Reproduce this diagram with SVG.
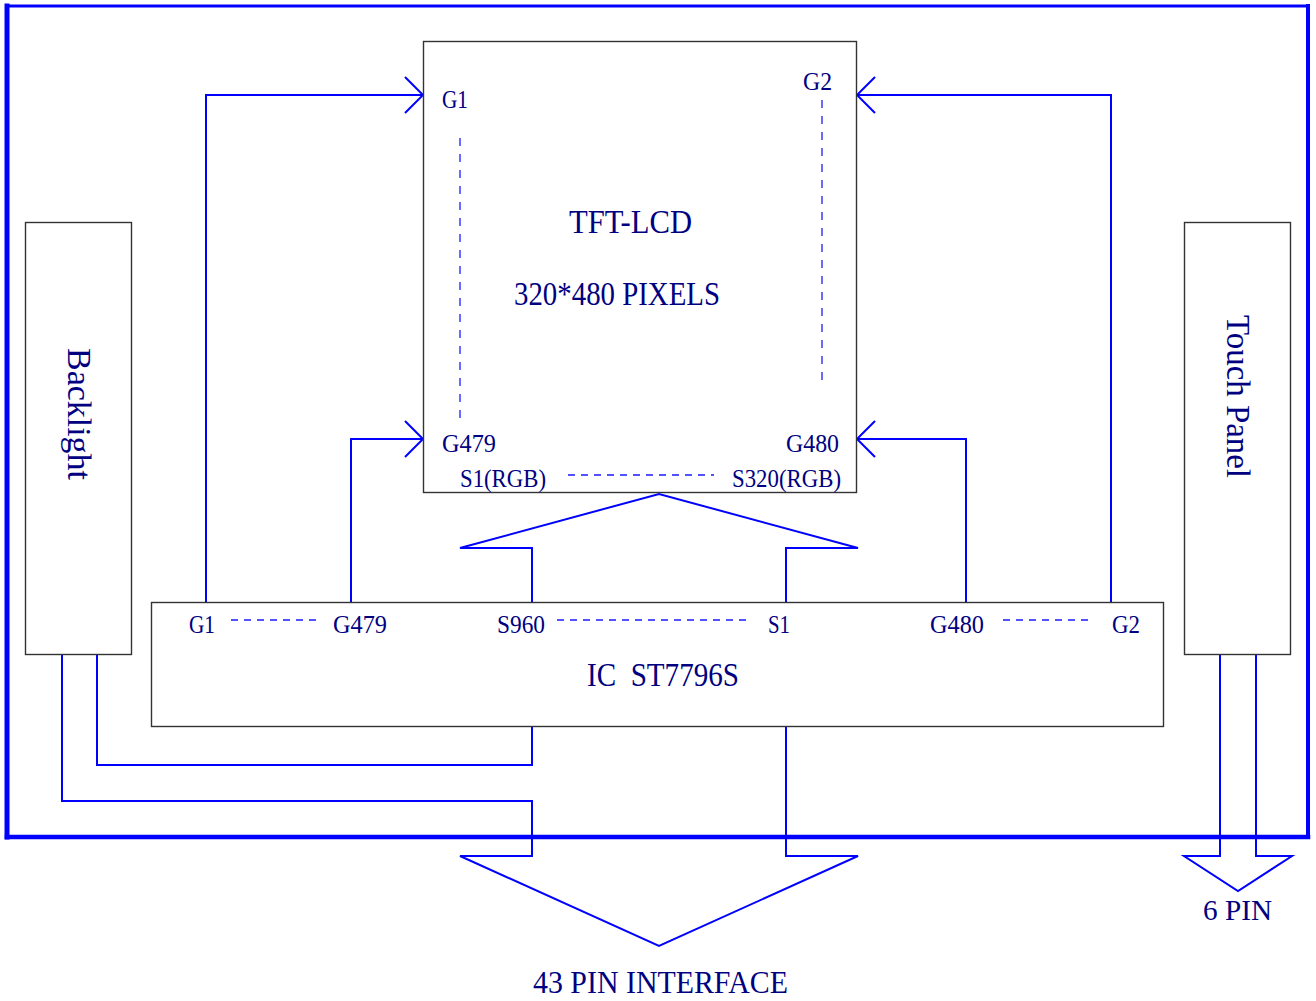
<svg xmlns="http://www.w3.org/2000/svg" width="1316" height="1001" viewBox="0 0 1316 1001">
<style>
.t{font-family:"Liberation Serif","Times New Roman",serif;fill:#000080;}
.s{font-size:25px;}
.b{font-size:33px;}
.w{stroke:#0000ff;stroke-width:2;fill:none;stroke-linejoin:miter;}
.d{stroke:#1a1aff;stroke-width:1.3;fill:none;stroke-dasharray:8 8;}
.dh{stroke:#1a1aff;stroke-width:1.3;fill:none;stroke-dasharray:7 6;}
.box{fill:#fff;stroke:#333;stroke-width:1.4;}
.fr{stroke:#0000ff;fill:none;stroke-linecap:square;}
</style>
<rect width="1316" height="1001" fill="#fff"/>
<g id="frame">
<line class="fr" x1="7" y1="6" x2="1308" y2="6" stroke-width="3"/>
<line class="fr" x1="7" y1="6" x2="7" y2="837" stroke-width="5"/>
<line class="fr" x1="1308" y1="6" x2="1308" y2="837" stroke-width="4"/>
<line class="fr" x1="7" y1="837" x2="1308" y2="837" stroke-width="4.5"/>
</g>
<g id="connectors">
<path class="w" d="M206,602 V95 H423 M405,77 L423,95 L405,113"/>
<path class="w" d="M351,602 V439 H423 M405,421 L423,439 L405,457"/>
<path class="w" d="M1111,602 V95 H857 M875,77 L857,95 L875,113"/>
<path class="w" d="M966,602 V439 H857 M875,421 L857,439 L875,457"/>
<path class="w" d="M532,602 V548 H460 L659,494 L858,548 H786 V602"/>
<path class="w" d="M532,727 V765 H97 V655"/>
<path class="w" d="M62,655 V801 H532 V856 H460 L659,946 L858,856 H786 V727"/>
<path class="w" d="M1220,655 V856 H1184 L1238,891 L1292,856 H1256 V655"/>
</g>
<g id="tft">
<rect class="box" x="423.5" y="41.5" width="433" height="451"/>
<line class="d" x1="460" y1="138" x2="460" y2="425"/>
<line class="d" x1="822" y1="100" x2="822" y2="385"/>
<line class="dh" x1="568" y1="475" x2="714" y2="475"/>
<text class="t s" x="442" y="108" textLength="26" lengthAdjust="spacingAndGlyphs">G1</text>
<text class="t s" x="803" y="90" textLength="29" lengthAdjust="spacingAndGlyphs">G2</text>
<text class="t s" x="442" y="452" textLength="54" lengthAdjust="spacingAndGlyphs">G479</text>
<text class="t s" x="786" y="452" textLength="53" lengthAdjust="spacingAndGlyphs">G480</text>
<text class="t s" x="460" y="487" textLength="86" lengthAdjust="spacingAndGlyphs">S1(RGB)</text>
<text class="t s" x="732" y="487" textLength="109" lengthAdjust="spacingAndGlyphs">S320(RGB)</text>
<text class="t b" x="569" y="233" textLength="123" lengthAdjust="spacingAndGlyphs">TFT-LCD</text>
<text class="t b" x="514" y="305" textLength="206" lengthAdjust="spacingAndGlyphs">320*480 PIXELS</text>
</g>
<g id="backlight">
<rect class="box" x="25.5" y="222.5" width="106" height="432"/>
<text class="t b" transform="translate(68,348) rotate(90)" x="0" y="0" textLength="132" lengthAdjust="spacingAndGlyphs">Backlight</text>
</g>
<g id="touch">
<rect class="box" x="1184.5" y="222.5" width="106" height="432"/>
<text class="t b" transform="translate(1227,315) rotate(90)" x="0" y="0" textLength="163" lengthAdjust="spacingAndGlyphs">Touch Panel</text>
</g>
<g id="ic">
<rect class="box" x="151.5" y="602.5" width="1012" height="124"/>
<line class="dh" x1="231" y1="620" x2="316" y2="620"/>
<line class="dh" x1="557" y1="620" x2="749" y2="620"/>
<line class="dh" x1="1003" y1="620" x2="1088" y2="620"/>
<text class="t s" x="189" y="633" textLength="26" lengthAdjust="spacingAndGlyphs">G1</text>
<text class="t s" x="333" y="633" textLength="54" lengthAdjust="spacingAndGlyphs">G479</text>
<text class="t s" x="497" y="633" textLength="48" lengthAdjust="spacingAndGlyphs">S960</text>
<text class="t s" x="768" y="633" textLength="22" lengthAdjust="spacingAndGlyphs">S1</text>
<text class="t s" x="930" y="633" textLength="54" lengthAdjust="spacingAndGlyphs">G480</text>
<text class="t s" x="1112" y="633" textLength="28" lengthAdjust="spacingAndGlyphs">G2</text>
<text class="t b" x="587" y="686" textLength="152" lengthAdjust="spacingAndGlyphs" style="white-space:pre">IC  ST7796S</text>
</g>
<g id="labels">
<text class="t" style="font-size:32px" x="533" y="993" textLength="255" lengthAdjust="spacingAndGlyphs">43 PIN INTERFACE</text>
<text class="t" style="font-size:30px" x="1203" y="920" textLength="69" lengthAdjust="spacingAndGlyphs">6 PIN</text>
</g>
</svg>
